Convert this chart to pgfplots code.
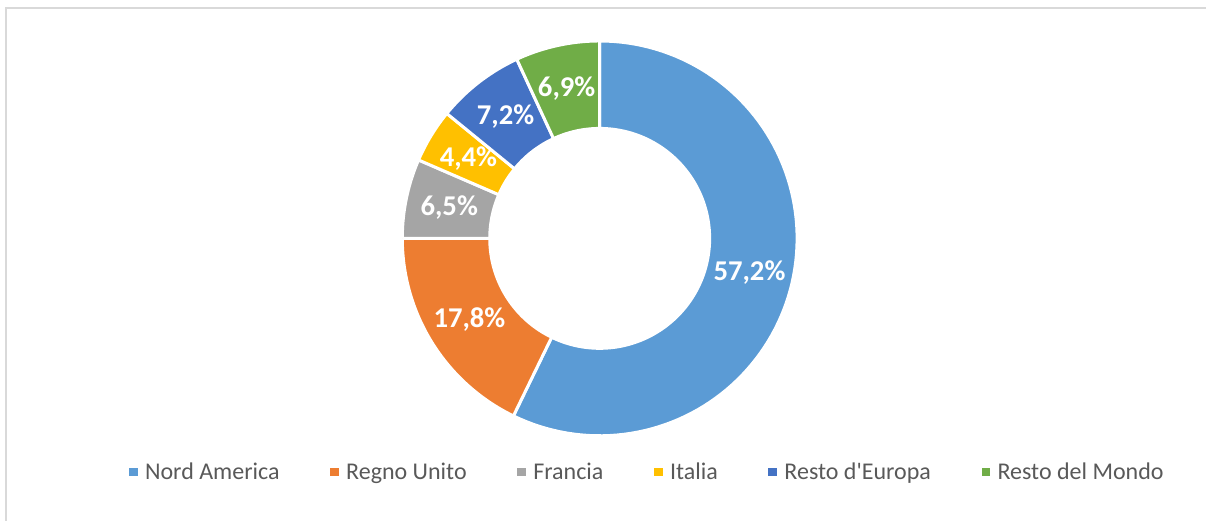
\documentclass[border=0pt]{standalone}
\usepackage{fontspec}
\setmainfont{Carlito}[Ligatures=TeXOff]
\usepackage{pgfplots}
\pgfplotsset{compat=1.18}
\definecolor{cNA}{HTML}{5B9BD5}
\definecolor{cRU}{HTML}{ED7D31}
\definecolor{cFR}{HTML}{A5A5A5}
\definecolor{cIT}{HTML}{FFC000}
\definecolor{cRE}{HTML}{4472C4}
\definecolor{cRM}{HTML}{70AD47}
\definecolor{legtext}{HTML}{595959}
\definecolor{frame}{HTML}{D9D9D9}
% #1 = cumulative start (percent), #2 = value (percent), #3 = colour, #4 = legend, #5 = label
\newcommand\slice[5]{%
  \addplot[fill=#3, draw=white, line width=2.25pt, line join=round,
           domain=0:4, samples=401, variable=\t]
   ({600 + (197.5 - 87.5*(min(max(\t-1,0),1) - max(\t-3,0)))*cos(90 - 3.6*#1 - 3.6*#2*(min(\t,1) - min(max(\t-2,0),1)))},
    {282.5 + (197.5 - 87.5*(min(max(\t-1,0),1) - max(\t-3,0)))*sin(90 - 3.6*#1 - 3.6*#2*(min(\t,1) - min(max(\t-2,0),1)))});
  \addlegendentry{#4}
  \node[text=white, font=\bfseries\fontsize{21.5}{25}\selectfont]
    at (axis cs:{600+153.75*cos(90-3.6*(#1+#2/2))},{282.5+153.75*sin(90-3.6*(#1+#2/2))}) {#5};
}
\begin{document}
\begin{tikzpicture}
\begin{axis}[
  x=0.75pt, y=0.75pt,
  xmin=0, xmax=1207, ymin=0, ymax=521,
  hide axis, clip=false,
  legend columns=6,
  legend style={at={(axis cs:648,49)}, anchor=center, draw=none, fill=none,
    font=\fontsize{18}{21}\selectfont, text=legtext,
    /tikz/every even column/.append style={column sep=36pt}},
  legend image code/.code={\path[draw=none, fill=none] (0pt,0pt) -- (10pt,0pt); \fill[#1, draw=none] (0pt,-3.2pt) rectangle (6.4pt,3.2pt);},
]
\path (axis cs:0,0) rectangle (axis cs:1207,521);
\draw[frame, line width=0.9pt] (axis cs:6,0) -- (axis cs:6,513) -- (axis cs:1207,513);
\slice{0}{57.2}{cNA}{Nord America}{57,2\%}
\slice{57.2}{17.8}{cRU}{Regno Unito}{17,8\%}
\slice{75.0}{6.5}{cFR}{Francia}{6,5\%}
\slice{81.5}{4.4}{cIT}{Italia}{4,4\%}
\slice{85.9}{7.2}{cRE}{Resto d'Europa}{7,2\%}
\slice{93.1}{6.9}{cRM}{Resto del Mondo}{6,9\%}
\end{axis}
\end{tikzpicture}
\end{document}
